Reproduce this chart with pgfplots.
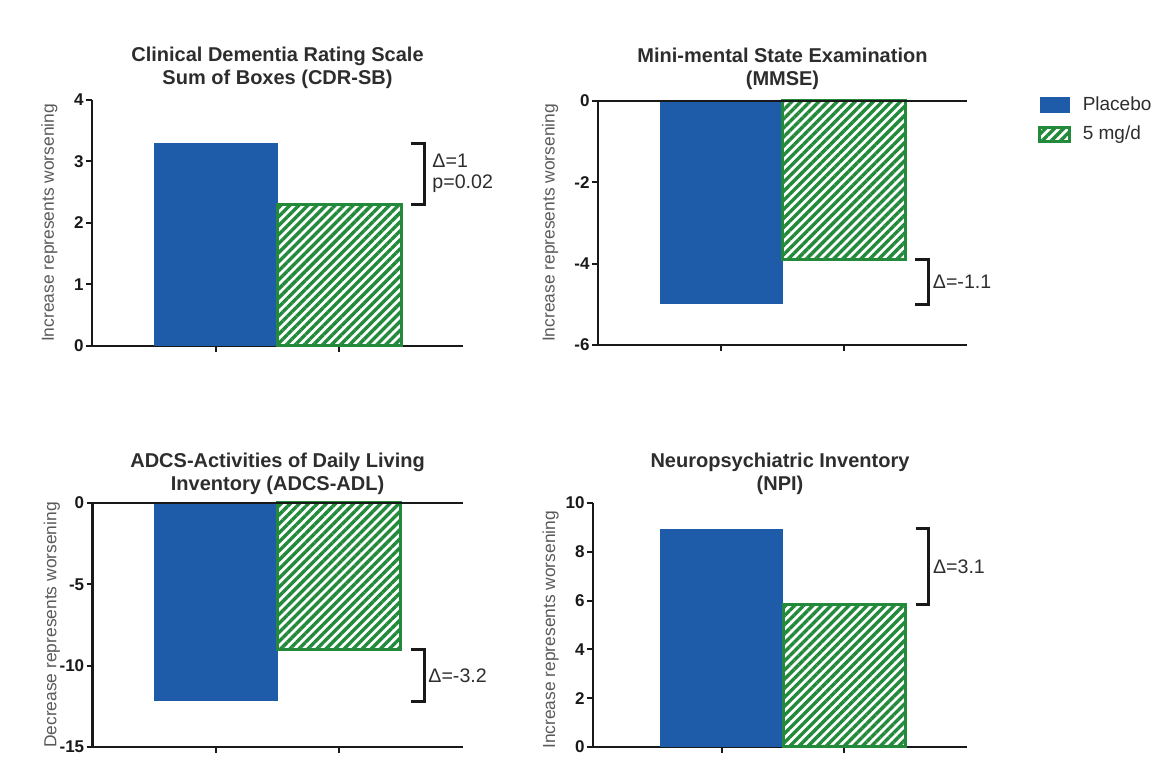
\documentclass[border=0pt]{standalone}
\usepackage{fontspec}
\setmainfont{Liberation Sans}
\usepackage{pgfplots}
\pgfplotsset{compat=1.18}
\usetikzlibrary{patterns.meta}
\definecolor{myblue}{RGB}{30,91,168}
\definecolor{mygreen}{RGB}{35,138,60}
\definecolor{axiscol}{RGB}{25,25,25}
\definecolor{txtcol}{RGB}{45,45,45}
\definecolor{labcol}{RGB}{90,90,90}

\tikzset{hatch/.style={pattern={Lines[angle=45,distance=3.2pt,line width=1.7pt]}, pattern color=mygreen},
  brk/.style={line width=1.5pt, draw=axiscol},
  ann/.style={anchor=west, align=left, inner sep=0pt, font=\fontsize{9.8}{10.5}\selectfont, text=txtcol}}

\pgfplotsset{
 panel/.style={
   scale only axis, height=122pt,
   axis x line=bottom, axis y line=left,
   axis line style={-, line width=1.3pt, draw=axiscol},
   xmin=-1, xmax=2, xtick={0,1}, xticklabels={},
   tick align=outside, major tick length=3pt,
   tick style={line width=1pt, draw=axiscol},
   enlargelimits=false, clip=false,
   /pgf/number format/assume math mode=true,
   yticklabel style={font=\fontsize{8.5}{10}\selectfont\bfseries, text=axiscol, inner sep=1pt},
   title style={font=\fontsize{10}{11.5}\selectfont\bfseries, text=txtcol, align=center, at={(0.5,1)}, anchor=south, inner sep=0pt},
   ylabel style={font=\fontsize{8.7}{10}\selectfont, text=labcol, anchor=center},
 },
 placebo/.style={ybar, bar width=1, fill=myblue, draw=none},
 drug/.style={ybar, bar width=1, draw=mygreen, line width=1.5pt, hatch},
}

\begin{document}
\begin{tikzpicture}
\path (0pt,0pt) rectangle (579pt,379pt);

% Top left: CDR-SB
\begin{axis}[panel, at={(46pt,206pt)}, anchor=south west, width=185.5pt, height=123pt,
  ymin=0, ymax=4, ytick={0,1,2,3,4},
  title={Clinical Dementia Rating Scale\\Sum of Boxes (CDR-SB)}, title style={yshift=-0.6pt},
  ylabel={Increase represents worsening}, ylabel style={at={(axis description cs:-0.115,0.5)}}]
\addplot[placebo] coordinates {(0,3.3)};
\addplot[drug] coordinates {(1,2.3)};
\draw[brk] (axis cs:1.58,3.3) -- (axis cs:1.69,3.3) -- (axis cs:1.69,2.3) -- (axis cs:1.58,2.3);
\node[ann] at (axis cs:1.75,2.8) {Δ=1\\p=0.02};
\end{axis}

% Top right: MMSE
\begin{axis}[panel, at={(299pt,206.5pt)}, anchor=south west, width=184.5pt, height=122pt,
  ymin=-6, ymax=0, ytick={-6,-4,-2,0},
  title={Mini-mental State Examination\\(MMSE)}, title style={yshift=-0.6pt},
  ylabel={Increase represents worsening}, ylabel style={at={(axis description cs:-0.130,0.5)}},
  legend style={at={(1.1924,1.037)}, anchor=north west, draw=none, fill=none, inner sep=0pt,
    font=\fontsize{9.5}{11}\selectfont, text=txtcol, row sep=2.5pt, cells={anchor=west},
    /tikz/every odd column/.append style={column sep=4pt}},
  legend cell align=left]
\addplot[placebo, legend image code/.code={\fill[myblue] (0pt,-4pt) rectangle (15pt,4pt);}] coordinates {(0,-5.0)};
\addlegendentry{Placebo}
\addplot[drug, legend image code/.code={\draw[mygreen, line width=1.2pt, hatch] (0pt,-3.5pt) rectangle (15pt,3.5pt);}] coordinates {(1,-3.9)};
\addlegendentry{5 mg/d}
\draw[line width=1.3pt, axiscol] (rel axis cs:0,1) -- (rel axis cs:1,1);
\draw[brk] (axis cs:1.58,-3.9) -- (axis cs:1.69,-3.9) -- (axis cs:1.69,-5.0) -- (axis cs:1.58,-5.0);
\node[ann] at (axis cs:1.72,-4.45) {Δ=-1.1};
\end{axis}

% Bottom left: ADCS-ADL
\begin{axis}[panel, at={(46.3pt,5.5pt)}, anchor=south west, width=185pt, height=122pt,
  ymin=-15, ymax=0, ytick={-15,-10,-5,0},
  title={ADCS-Activities of Daily Living\\Inventory (ADCS-ADL)}, title style={yshift=-2.1pt},
  ylabel={Decrease represents worsening}, ylabel style={at={(axis description cs:-0.110,0.5)}}]
\addplot[placebo] coordinates {(0,-12.2)};
\addplot[drug] coordinates {(1,-9.0)};
\draw[line width=1.3pt, axiscol] (rel axis cs:0,1) -- (rel axis cs:1,1);
\draw[brk] (axis cs:1.58,-9.0) -- (axis cs:1.69,-9.0) -- (axis cs:1.69,-12.2) -- (axis cs:1.58,-12.2);
\node[ann] at (axis cs:1.72,-10.6) {Δ=-3.2};
\end{axis}

% Bottom right: NPI
\begin{axis}[panel, at={(296.5pt,5.5pt)}, anchor=south west, width=187pt, height=122pt,
  xmin=-1.05, ymin=0, ymax=10, ytick={0,2,4,6,8,10},
  title={Neuropsychiatric Inventory\\(NPI)}, title style={yshift=-2.1pt},
  ylabel={Increase represents worsening}, ylabel style={at={(axis description cs:-0.113,0.48)}}]
\addplot[placebo] coordinates {(0,8.95)};
\addplot[drug] coordinates {(1,5.85)};
\draw[brk] (axis cs:1.58,8.95) -- (axis cs:1.69,8.95) -- (axis cs:1.69,5.85) -- (axis cs:1.58,5.85);
\node[ann] at (axis cs:1.72,7.4) {Δ=3.1};
\end{axis}
\end{tikzpicture}
\end{document}
